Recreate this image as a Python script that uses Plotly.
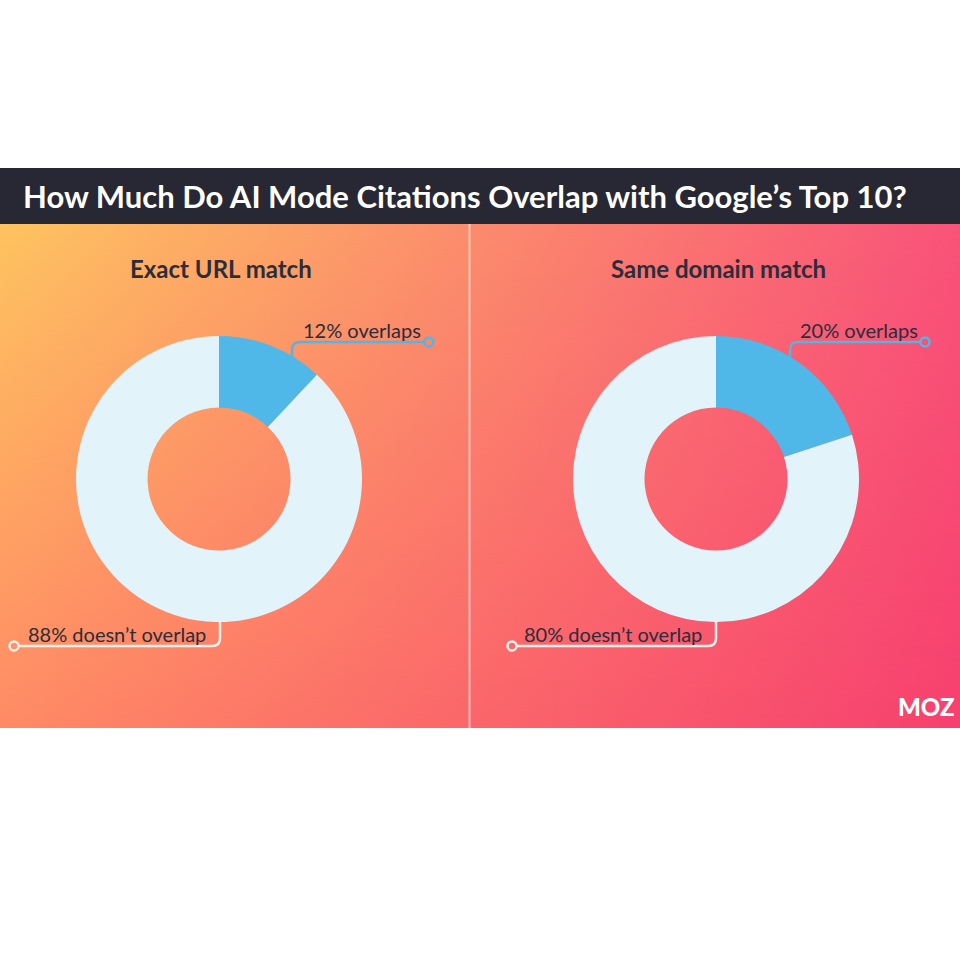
import base64
import plotly.graph_objects as go

# ---- data ----
title_text = "How Much Do AI Mode Citations Overlap with Google’s Top 10?"
panel_titles = ["Exact URL match", "Same domain match"]
overlap_pct = [12, 20]
no_overlap_pct = [88, 80]
slice_names = ["overlaps", "doesn’t overlap"]

# ---- style ----
W = H = 960
BAR_TOP, BAR_BOT, BG_BOT = 168, 224, 728
BLUE = "#4fb8e8"
LIGHT = "#e3f3fa"
TEXT = "#2b2d3b"
centers_x = [219, 716]
center_y = 479
R = 143

# gradient background as svg image
svg = f"""<svg xmlns="http://www.w3.org/2000/svg" width="960" height="504" viewBox="0 0 960 504" preserveAspectRatio="none">
<defs>
<linearGradient id="t" x1="0" y1="0" x2="1" y2="0"><stop offset="0" stop-color="#fec460"/><stop offset="1" stop-color="#f9537a"/></linearGradient>
<linearGradient id="b" x1="0" y1="0" x2="1" y2="0"><stop offset="0" stop-color="#ff8a65"/><stop offset="1" stop-color="#f6406f"/></linearGradient>
<linearGradient id="v" x1="0" y1="0" x2="0" y2="1"><stop offset="0" stop-color="#fff" stop-opacity="0"/><stop offset="1" stop-color="#fff" stop-opacity="1"/></linearGradient>
<mask id="m"><rect width="960" height="504" fill="url(#v)"/></mask>
</defs>
<rect width="960" height="504" fill="url(#t)"/>
<rect width="960" height="504" fill="url(#b)" mask="url(#m)"/>
</svg>"""
svg_uri = "data:image/svg+xml;base64," + base64.b64encode(svg.encode()).decode()

fig = go.Figure()

for i, cx in enumerate(centers_x):
    fig.add_trace(go.Pie(
        values=[overlap_pct[i], no_overlap_pct[i]],
        labels=slice_names,
        hole=0.5,
        sort=False,
        direction="clockwise",
        rotation=0,
        marker=dict(colors=[BLUE, LIGHT], line=dict(width=0)),
        textinfo="none",
        hoverinfo="skip",
        showlegend=False,
        domain=dict(x=[(cx - R) / W, (cx + R) / W],
                    y=[1 - (center_y + R) / H, 1 - (center_y - R) / H]),
    ))

# leader-line end markers
end_x = [429, 14, 925, 512]
end_y = [342, 646, 342, 646]
end_c = [BLUE, "#fff3ee", BLUE, "#fff3ee"]
fig.add_trace(go.Scatter(
    x=end_x, y=end_y, mode="markers", showlegend=False, hoverinfo="skip",
    cliponaxis=False,
    marker=dict(symbol="circle-open", size=9, color=end_c, line=dict(width=2.5, color=end_c)),
))

shapes = [
    dict(type="rect", xref="x", yref="y", x0=0, x1=W, y0=BAR_TOP, y1=BAR_BOT,
         fillcolor="#272833", line=dict(width=0), layer="below"),
    dict(type="line", xref="x", yref="y", x0=469.5, x1=469.5, y0=BAR_BOT, y1=BG_BOT,
         line=dict(color="rgba(255,255,255,0.55)", width=2), layer="below"),
]
paths = [
    ("M 292,357 L 292,350 Q 292,342 300,342 L 425,342", "#5ab3df"),
    ("M 220,622 L 220,638 Q 220,646 212,646 L 18,646", "#fff3ee"),
    ("M 790,357 L 790,350 Q 790,342 798,342 L 921,342", "#5ab3df"),
    ("M 716,622 L 716,638 Q 716,646 708,646 L 516,646", "#fff3ee"),
]
for p, c in paths:
    shapes.append(dict(type="path", xref="x", yref="y", path=p,
                       line=dict(color=c, width=2.5), layer="above"))

annotations = [
    dict(x=21, y=196, text=title_text, xanchor="left", yanchor="middle",
         font=dict(family="Lato", size=31, color="white", weight="bold")),
]
for i, cx in enumerate(centers_x):
    annotations.append(dict(x=cx + 2, y=268, text=panel_titles[i], xanchor="center", yanchor="middle",
                            font=dict(family="Lato", size=24, color=TEXT, weight="bold")))
ov_x_right = [423, 920]
for i, cx in enumerate(centers_x):
    annotations.append(dict(x=ov_x_right[i], y=330, text=f"{overlap_pct[i]}% {slice_names[0]}",
                            xanchor="right", yanchor="middle",
                            font=dict(family="Lato", size=20, color=TEXT)))
    annotations.append(dict(x=[26, 522][i], y=634, text=f"{no_overlap_pct[i]}% {slice_names[1]}",
                            xanchor="left", yanchor="middle",
                            font=dict(family="Lato", size=20, color=TEXT)))
annotations.append(dict(x=926, y=706, text="MOZ", xanchor="center", yanchor="middle",
                        font=dict(family="Lato", size=24, color="white", weight=900)))
for a in annotations:
    a.update(xref="x", yref="y", showarrow=False)

fig.update_layout(
    width=W, height=H,
    margin=dict(l=0, r=0, t=0, b=0),
    paper_bgcolor="white", plot_bgcolor="rgba(0,0,0,0)",
    xaxis=dict(range=[0, W], domain=[0, 1], visible=False, fixedrange=True),
    yaxis=dict(range=[H, 0], domain=[0, 1], visible=False, fixedrange=True),
    images=[dict(source=svg_uri, xref="paper", yref="paper", x=0, y=1 - BAR_BOT / H,
                 sizex=1, sizey=(BG_BOT - BAR_BOT) / H, xanchor="left", yanchor="top",
                 sizing="stretch", layer="below")],
    shapes=shapes,
    annotations=annotations,
    showlegend=False,
)

fig.write_html("out.html")
